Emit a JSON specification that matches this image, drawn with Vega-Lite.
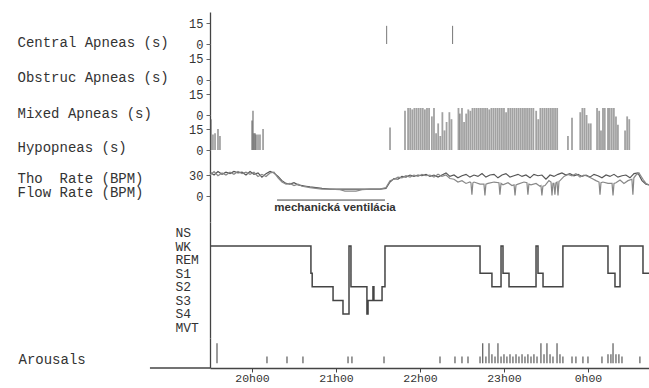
{
"$schema": "https://vega.github.io/schema/vega-lite/v6.json",
"background": "white",
"padding": {"left": 17, "top": 12, "right": 0, "bottom": 0},
"bounds": "flush",
"spacing": 0,
"config": {
 "view": {"stroke": null},
 "axis": {"grid": false, "labelFont": "Liberation Mono", "titleFont": "Liberation Mono", "labelColor": "#333", "titleColor": "#333", "domainColor": "#444", "domainWidth": 1.3, "tickColor": "#666", "labelFontSize": 12, "titleFontSize": 14, "titleFontWeight": "normal"}
},
"datasets": {
 "apnea": [
  {"type":"C","m":156.2,"s":13},{"type":"C","m":203.3,"s":13},
  {"type":"H","m":30.7,"s":22},{"type":"H","m":32.1,"s":11},{"type":"H","m":33.6,"s":12},{"type":"H","m":35.7,"s":15},{"type":"H","m":37.1,"s":10},
  {"type":"H","m":60,"s":21},{"type":"H","m":60.7,"s":28},{"type":"H","m":61.4,"s":12},{"type":"H","m":62.2,"s":12},{"type":"H","m":62.9,"s":11},{"type":"H","m":64.3,"s":11},{"type":"H","m":65.7,"s":11},{"type":"H","m":67.9,"s":15},
  {"type":"H","m":158.6,"s":16},
  {"type":"H","m":169.3,"s":28},{"type":"H","m":171.5,"s":30},{"type":"H","m":173,"s":30},{"type":"H","m":174.5,"s":29},{"type":"H","m":176,"s":30},{"type":"H","m":177.5,"s":30},{"type":"H","m":179,"s":30},{"type":"H","m":180.5,"s":30},{"type":"H","m":182,"s":30},{"type":"H","m":183.5,"s":29},{"type":"H","m":185,"s":30},{"type":"H","m":186.5,"s":30},
  {"type":"H","m":188.5,"s":24},{"type":"H","m":190,"s":30},{"type":"H","m":191.5,"s":12},{"type":"H","m":193,"s":19},{"type":"H","m":194.5,"s":10},{"type":"H","m":196,"s":27},{"type":"H","m":197.5,"s":14},{"type":"H","m":199,"s":20},{"type":"H","m":201,"s":27},{"type":"H","m":202.5,"s":22},
  {"type":"H","m":207.5,"s":30},{"type":"H","m":208.5,"s":26},{"type":"H","m":210,"s":30},{"type":"H","m":211.5,"s":20},{"type":"H","m":213,"s":26},{"type":"H","m":214.5,"s":29},{"type":"H","m":216,"s":28},{"type":"H","m":217.5,"s":30},{"type":"H","m":219,"s":30},{"type":"H","m":220.5,"s":30},{"type":"H","m":222,"s":30},{"type":"H","m":223.5,"s":30},{"type":"H","m":225,"s":30},{"type":"H","m":226.5,"s":30},{"type":"H","m":228,"s":30},{"type":"H","m":229.5,"s":29},{"type":"H","m":231,"s":30},{"type":"H","m":232.5,"s":30},{"type":"H","m":234,"s":30},{"type":"H","m":235.5,"s":30},{"type":"H","m":237,"s":30},{"type":"H","m":238.5,"s":30},{"type":"H","m":240,"s":30},{"type":"H","m":241.5,"s":27},{"type":"H","m":243,"s":30},{"type":"H","m":244.5,"s":30},{"type":"H","m":246,"s":30},{"type":"H","m":247.5,"s":30},{"type":"H","m":249,"s":30},{"type":"H","m":250.5,"s":30},
  {"type":"H","m":252,"s":30},{"type":"H","m":253.5,"s":30},{"type":"H","m":255,"s":30},{"type":"H","m":256.5,"s":30},{"type":"H","m":258,"s":30},{"type":"H","m":259.5,"s":30},{"type":"H","m":261,"s":30},{"type":"H","m":263,"s":28},{"type":"H","m":264.5,"s":22},{"type":"H","m":266,"s":30},{"type":"H","m":267.5,"s":30},{"type":"H","m":269,"s":30},{"type":"H","m":270.5,"s":30},{"type":"H","m":272,"s":30},{"type":"H","m":273.5,"s":30},{"type":"H","m":275,"s":30},{"type":"H","m":276.5,"s":30},{"type":"H","m":278,"s":30},
  {"type":"H","m":285.7,"s":10},{"type":"H","m":288.6,"s":23},
  {"type":"H","m":294.5,"s":27},{"type":"H","m":296,"s":30},{"type":"H","m":297.5,"s":30},{"type":"H","m":299,"s":25},{"type":"H","m":300.5,"s":19},{"type":"H","m":302,"s":19},
  {"type":"H","m":306.5,"s":30},{"type":"H","m":308,"s":28},{"type":"H","m":309.3,"s":14},{"type":"H","m":310.7,"s":30},{"type":"H","m":312,"s":30},{"type":"H","m":314.3,"s":30},{"type":"H","m":315.5,"s":30},{"type":"H","m":317,"s":30},{"type":"H","m":318.5,"s":30},{"type":"H","m":320,"s":24},{"type":"H","m":321.4,"s":18},
  {"type":"H","m":326.5,"s":14},{"type":"H","m":328,"s":24},{"type":"H","m":329.5,"s":22}
 ],
 "rate": [
  {"s":"Tho","m":30.0,"v":34},{"s":"Tho","m":32.9,"v":30},{"s":"Tho","m":35.7,"v":35},{"s":"Tho","m":38.6,"v":31},{"s":"Tho","m":41.4,"v":34},{"s":"Tho","m":44.3,"v":32},{"s":"Tho","m":47.1,"v":35},{"s":"Tho","m":50.0,"v":33},{"s":"Tho","m":52.9,"v":34},{"s":"Tho","m":55.7,"v":30},{"s":"Tho","m":58.6,"v":35},{"s":"Tho","m":61.4,"v":31},{"s":"Tho","m":64.3,"v":33},{"s":"Tho","m":67.1,"v":27},{"s":"Tho","m":70.0,"v":32},{"s":"Tho","m":72.9,"v":35},{"s":"Tho","m":75.7,"v":33},{"s":"Tho","m":78.6,"v":28},{"s":"Tho","m":81.4,"v":22},{"s":"Tho","m":84.3,"v":18},{"s":"Tho","m":87.1,"v":17},{"s":"Tho","m":90.0,"v":19},{"s":"Tho","m":92.9,"v":16},{"s":"Tho","m":95.7,"v":15},{"s":"Tho","m":98.6,"v":14},{"s":"Tho","m":101.4,"v":13},{"s":"Tho","m":105.7,"v":12},{"s":"Tho","m":110.0,"v":11},{"s":"Tho","m":115.7,"v":10},{"s":"Tho","m":122.9,"v":10},{"s":"Tho","m":130.0,"v":10},{"s":"Tho","m":137.1,"v":10},{"s":"Tho","m":144.3,"v":10},{"s":"Tho","m":151.4,"v":10},{"s":"Tho","m":155.7,"v":11},{"s":"Tho","m":158.6,"v":20},{"s":"Tho","m":161.4,"v":25},{"s":"Tho","m":164.3,"v":24},{"s":"Tho","m":167.1,"v":28},{"s":"Tho","m":170.0,"v":27},{"s":"Tho","m":172.9,"v":30},{"s":"Tho","m":175.7,"v":28},{"s":"Tho","m":178.6,"v":30},{"s":"Tho","m":181.4,"v":29},{"s":"Tho","m":184.3,"v":31},{"s":"Tho","m":187.1,"v":28},{"s":"Tho","m":190.0,"v":30},{"s":"Tho","m":192.9,"v":27},{"s":"Tho","m":195.7,"v":30},{"s":"Tho","m":198.6,"v":33},{"s":"Tho","m":201.4,"v":28},{"s":"Tho","m":204.3,"v":30},{"s":"Tho","m":207.1,"v":26},{"s":"Tho","m":210.0,"v":29},{"s":"Tho","m":212.9,"v":31},{"s":"Tho","m":215.7,"v":27},{"s":"Tho","m":218.6,"v":30},{"s":"Tho","m":221.4,"v":28},{"s":"Tho","m":224.3,"v":32},{"s":"Tho","m":227.1,"v":27},{"s":"Tho","m":230.0,"v":30},{"s":"Tho","m":232.9,"v":31},{"s":"Tho","m":235.7,"v":26},{"s":"Tho","m":238.6,"v":30},{"s":"Tho","m":241.4,"v":32},{"s":"Tho","m":244.3,"v":27},{"s":"Tho","m":247.1,"v":29},{"s":"Tho","m":250.0,"v":31},{"s":"Tho","m":252.9,"v":28},{"s":"Tho","m":255.7,"v":30},{"s":"Tho","m":258.6,"v":26},{"s":"Tho","m":261.4,"v":31},{"s":"Tho","m":264.3,"v":29},{"s":"Tho","m":267.1,"v":30},{"s":"Tho","m":270.0,"v":24},{"s":"Tho","m":272.9,"v":30},{"s":"Tho","m":275.7,"v":28},{"s":"Tho","m":278.6,"v":31},{"s":"Tho","m":281.4,"v":33},{"s":"Tho","m":284.3,"v":30},{"s":"Tho","m":287.1,"v":32},{"s":"Tho","m":290.0,"v":29},{"s":"Tho","m":292.9,"v":31},{"s":"Tho","m":295.7,"v":28},{"s":"Tho","m":298.6,"v":30},{"s":"Tho","m":301.4,"v":27},{"s":"Tho","m":304.3,"v":31},{"s":"Tho","m":307.1,"v":29},{"s":"Tho","m":310.0,"v":26},{"s":"Tho","m":312.9,"v":30},{"s":"Tho","m":315.7,"v":28},{"s":"Tho","m":318.6,"v":31},{"s":"Tho","m":321.4,"v":27},{"s":"Tho","m":324.3,"v":29},{"s":"Tho","m":327.1,"v":30},{"s":"Tho","m":330.0,"v":26},{"s":"Tho","m":332.9,"v":32},{"s":"Tho","m":335.7,"v":33},{"s":"Tho","m":338.6,"v":22},{"s":"Tho","m":341.4,"v":17},{"s":"Tho","m":343.6,"v":16},
  {"s":"Flow","m":30.0,"v":30},{"s":"Flow","m":32.9,"v":35},{"s":"Flow","m":35.7,"v":29},{"s":"Flow","m":38.6,"v":33},{"s":"Flow","m":41.4,"v":30},{"s":"Flow","m":44.3,"v":34},{"s":"Flow","m":47.1,"v":31},{"s":"Flow","m":50.0,"v":35},{"s":"Flow","m":52.9,"v":32},{"s":"Flow","m":55.7,"v":34},{"s":"Flow","m":58.6,"v":31},{"s":"Flow","m":61.4,"v":34},{"s":"Flow","m":64.3,"v":28},{"s":"Flow","m":67.1,"v":31},{"s":"Flow","m":70.0,"v":28},{"s":"Flow","m":72.9,"v":33},{"s":"Flow","m":75.7,"v":34},{"s":"Flow","m":78.6,"v":26},{"s":"Flow","m":81.4,"v":20},{"s":"Flow","m":84.3,"v":17},{"s":"Flow","m":87.1,"v":18},{"s":"Flow","m":90.0,"v":15},{"s":"Flow","m":92.9,"v":17},{"s":"Flow","m":95.7,"v":14},{"s":"Flow","m":98.6,"v":13},{"s":"Flow","m":101.4,"v":12},{"s":"Flow","m":105.7,"v":11},{"s":"Flow","m":110.0,"v":10},{"s":"Flow","m":115.7,"v":10},{"s":"Flow","m":122.9,"v":9},{"s":"Flow","m":126.4,"v":7},{"s":"Flow","m":130.0,"v":7},{"s":"Flow","m":134.3,"v":7},{"s":"Flow","m":138.6,"v":9},{"s":"Flow","m":144.3,"v":10},{"s":"Flow","m":151.4,"v":10},{"s":"Flow","m":155.7,"v":12},{"s":"Flow","m":158.6,"v":22},{"s":"Flow","m":161.4,"v":24},{"s":"Flow","m":164.3,"v":27},{"s":"Flow","m":167.1,"v":26},{"s":"Flow","m":170.0,"v":29},{"s":"Flow","m":172.9,"v":27},{"s":"Flow","m":175.7,"v":30},{"s":"Flow","m":178.6,"v":28},{"s":"Flow","m":181.4,"v":31},{"s":"Flow","m":184.3,"v":29},{"s":"Flow","m":187.1,"v":30},{"s":"Flow","m":190.0,"v":27},{"s":"Flow","m":192.9,"v":31},{"s":"Flow","m":195.7,"v":28},{"s":"Flow","m":198.6,"v":30},{"s":"Flow","m":201.4,"v":25},{"s":"Flow","m":204.3,"v":24},{"s":"Flow","m":207.1,"v":20},{"s":"Flow","m":210.0,"v":22},{"s":"Flow","m":212.9,"v":18},{"s":"Flow","m":215.7,"v":20},{"s":"Flow","m":216.4,"v":19},{"s":"Flow","m":217.1,"v":2},{"s":"Flow","m":217.8,"v":19},{"s":"Flow","m":218.6,"v":20},{"s":"Flow","m":222.9,"v":17},{"s":"Flow","m":225.7,"v":17},{"s":"Flow","m":226.4,"v":1},{"s":"Flow","m":227.1,"v":17},{"s":"Flow","m":228.6,"v":18},{"s":"Flow","m":232.9,"v":20},{"s":"Flow","m":236.4,"v":19},{"s":"Flow","m":237.1,"v":2},{"s":"Flow","m":237.9,"v":18},{"s":"Flow","m":239.3,"v":16},{"s":"Flow","m":242.9,"v":19},{"s":"Flow","m":245.7,"v":15},{"s":"Flow","m":247.2,"v":16},{"s":"Flow","m":247.9,"v":1},{"s":"Flow","m":248.6,"v":16},{"s":"Flow","m":250.0,"v":17},{"s":"Flow","m":254.3,"v":20},{"s":"Flow","m":256.4,"v":19},{"s":"Flow","m":257.1,"v":2},{"s":"Flow","m":257.8,"v":17},{"s":"Flow","m":259.3,"v":16},{"s":"Flow","m":262.9,"v":18},{"s":"Flow","m":265.7,"v":14},{"s":"Flow","m":266.4,"v":15},{"s":"Flow","m":267.1,"v":1},{"s":"Flow","m":267.8,"v":14},{"s":"Flow","m":269.3,"v":15},{"s":"Flow","m":272.1,"v":22},{"s":"Flow","m":273.6,"v":20},{"s":"Flow","m":274.3,"v":1},{"s":"Flow","m":275.0,"v":18},{"s":"Flow","m":275.7,"v":18},{"s":"Flow","m":276.4,"v":2},{"s":"Flow","m":277.1,"v":19},{"s":"Flow","m":277.9,"v":20},{"s":"Flow","m":278.6,"v":1},{"s":"Flow","m":279.3,"v":21},{"s":"Flow","m":280.0,"v":22},{"s":"Flow","m":282.9,"v":28},{"s":"Flow","m":285.7,"v":31},{"s":"Flow","m":288.6,"v":29},{"s":"Flow","m":291.4,"v":32},{"s":"Flow","m":294.3,"v":27},{"s":"Flow","m":297.1,"v":30},{"s":"Flow","m":300.0,"v":28},{"s":"Flow","m":302.9,"v":25},{"s":"Flow","m":305.7,"v":22},{"s":"Flow","m":307.9,"v":20},{"s":"Flow","m":308.6,"v":2},{"s":"Flow","m":309.3,"v":19},{"s":"Flow","m":310.7,"v":20},{"s":"Flow","m":314.3,"v":18},{"s":"Flow","m":317.2,"v":18},{"s":"Flow","m":317.9,"v":1},{"s":"Flow","m":318.6,"v":18},{"s":"Flow","m":320.0,"v":19},{"s":"Flow","m":322.9,"v":23},{"s":"Flow","m":325.7,"v":18},{"s":"Flow","m":328.6,"v":22},{"s":"Flow","m":331.4,"v":24},{"s":"Flow","m":332.1,"v":2},{"s":"Flow","m":332.8,"v":26},{"s":"Flow","m":334.3,"v":30},{"s":"Flow","m":336.4,"v":33},{"s":"Flow","m":339.3,"v":24},{"s":"Flow","m":341.4,"v":18},{"s":"Flow","m":343.6,"v":16}
 ],
 "stage": [
  {"m":30,"st":"WK","lvl":6},{"m":102.1,"st":"S1","lvl":4},{"m":103,"st":"S2","lvl":3},{"m":117.9,"st":"S3","lvl":2},{"m":125,"st":"S4","lvl":1},{"m":129.3,"st":"WK","lvl":6},{"m":130.7,"st":"S2","lvl":3},{"m":142.1,"st":"S4","lvl":1},{"m":142.9,"st":"S3","lvl":2},{"m":146.4,"st":"S2","lvl":3},{"m":147.1,"st":"S3","lvl":2},{"m":152.9,"st":"S2","lvl":3},{"m":155,"st":"WK","lvl":6},{"m":222.9,"st":"S1","lvl":4},{"m":231.4,"st":"S2","lvl":3},{"m":237.9,"st":"WK","lvl":6},{"m":239.3,"st":"S1","lvl":4},{"m":243.6,"st":"S2","lvl":3},{"m":262.9,"st":"WK","lvl":6},{"m":264.3,"st":"S1","lvl":4},{"m":267.9,"st":"S2","lvl":3},{"m":282.1,"st":"WK","lvl":6},{"m":314.3,"st":"S1","lvl":4},{"m":319.3,"st":"S2","lvl":3},{"m":322.9,"st":"WK","lvl":6},{"m":339.3,"st":"S1","lvl":4},{"m":343.6,"st":"S1","lvl":4}
 ],
 "arousal": [
  {"m":35,"h":9},{"m":70.7,"h":3},{"m":85,"h":3},{"m":96.4,"h":3},{"m":128.6,"h":3},{"m":131.4,"h":3},{"m":154.3,"h":3},{"m":194.3,"h":3},{"m":205,"h":3},{"m":210,"h":3},{"m":214.3,"h":3},
  {"m":222.9,"h":3},{"m":224.8,"h":9},{"m":227.1,"h":3},{"m":229.3,"h":9},{"m":231.4,"h":4},{"m":233.6,"h":3},{"m":235.7,"h":9},{"m":237.9,"h":3},{"m":240,"h":4},{"m":242.1,"h":3},{"m":244.3,"h":4},{"m":246.4,"h":3},{"m":248.6,"h":4},{"m":250.7,"h":3},{"m":252.9,"h":4},{"m":255,"h":3},{"m":257.1,"h":4},{"m":259.3,"h":3},{"m":261.4,"h":4},{"m":263.6,"h":3},{"m":266.4,"h":9},{"m":268.6,"h":4},{"m":270.7,"h":9},{"m":272.9,"h":4},{"m":275,"h":3},{"m":277.9,"h":9},{"m":280,"h":4},{"m":282.1,"h":3},
  {"m":288.6,"h":3},{"m":291.4,"h":3},{"m":296.4,"h":3},{"m":300,"h":3},{"m":310,"h":3},{"m":314.3,"h":4},{"m":316.4,"h":4},{"m":317.9,"h":9},{"m":320,"h":4},{"m":322.1,"h":4},{"m":324.3,"h":3},{"m":337.1,"h":3}
 ]
},
"vconcat": [
 {
  "width": 439, "height": 32,
  "data": {"name": "apnea"},
  "transform": [{"filter": "datum.type == 'C'"}],
  "mark": {"type": "rule", "color": "#777", "strokeWidth": 1},
  "encoding": {
   "x": {"field": "m", "type": "quantitative", "scale": {"domain": [30, 343.6], "nice": false, "zero": false}, "axis": null},
   "y": {"field": "s", "type": "quantitative", "scale": {"domain": [0, 22.9], "nice": false}, "axis": {"values": [0, 15], "title": "Central Apneas (s)", "titleAngle": 0, "titleAlign": "left", "titleX": -193, "titleY": 30, "titleBaseline": "middle", "tickSize": 4, "labelPadding": 3}},
   "y2": {"datum": 0}
  }
 },
 {
  "width": 439, "height": 36,
  "data": {"name": "apnea"},
  "transform": [{"filter": "datum.type == 'O'"}],
  "mark": {"type": "rule", "color": "#777", "strokeWidth": 1},
  "encoding": {
   "x": {"field": "m", "type": "quantitative", "scale": {"domain": [30, 343.6], "nice": false, "zero": false}, "axis": null},
   "y": {"field": "s", "type": "quantitative", "scale": {"domain": [0, 25.7], "nice": false}, "axis": {"values": [0, 15], "title": "Obstruc Apneas (s)", "titleAngle": 0, "titleAlign": "left", "titleX": -193, "titleY": 33, "titleBaseline": "middle", "tickSize": 4, "labelPadding": 3}},
   "y2": {"datum": 0}
  }
 },
 {
  "width": 439, "height": 35,
  "data": {"name": "apnea"},
  "transform": [{"filter": "datum.type == 'M'"}],
  "mark": {"type": "rule", "color": "#777", "strokeWidth": 1},
  "encoding": {
   "x": {"field": "m", "type": "quantitative", "scale": {"domain": [30, 343.6], "nice": false, "zero": false}, "axis": null},
   "y": {"field": "s", "type": "quantitative", "scale": {"domain": [0, 25], "nice": false}, "axis": {"values": [0, 15], "title": "Mixed Apneas (s)", "titleAngle": 0, "titleAlign": "left", "titleX": -193, "titleY": 33, "titleBaseline": "middle", "tickSize": 4, "labelPadding": 3}},
   "y2": {"datum": 0}
  }
 },
 {
  "width": 439, "height": 35,
  "data": {"name": "apnea"},
  "transform": [{"filter": "datum.type == 'H'"}],
  "mark": {"type": "rule", "color": "#555", "strokeWidth": 1.8, "opacity": 0.55},
  "encoding": {
   "x": {"field": "m", "type": "quantitative", "scale": {"domain": [30, 343.6], "nice": false, "zero": false}, "axis": null},
   "y": {"field": "s", "type": "quantitative", "scale": {"domain": [0, 25], "nice": false}, "axis": {"values": [0, 15], "title": "Hypopneas (s)", "titleAngle": 0, "titleAlign": "left", "titleX": -193, "titleY": 32, "titleBaseline": "middle", "tickSize": 4, "labelPadding": 3}},
   "y2": {"datum": 0}
  }
 },
 {
  "width": 439, "height": 72,
  "layer": [
   {
    "data": {"name": "rate"},
    "mark": {"type": "line", "strokeWidth": 1.2},
    "encoding": {
     "x": {"field": "m", "type": "quantitative", "scale": {"domain": [30, 343.6], "nice": false, "zero": false}, "axis": null},
     "y": {"field": "v", "type": "quantitative", "scale": {"domain": [-37, 65.7], "nice": false}, "axis": {"values": [0, 30], "title": ["Tho\u00a0\u00a0Rate (BPM)", "Flow Rate (BPM)"], "titleLineHeight": 14.5, "titleAngle": 0, "titleAlign": "left", "titleX": -193, "titleY": 28, "titleBaseline": "middle", "tickSize": 4, "labelPadding": 3}},
     "color": {"field": "s", "type": "nominal", "scale": {"domain": ["Tho", "Flow"], "range": ["#555", "#888"]}, "legend": null}
    }
   },
   {
    "data": {"values": [{"m": 77.9, "m2": 155, "v": -5.7}]},
    "mark": {"type": "rule", "color": "#444", "strokeWidth": 1},
    "encoding": {
     "x": {"field": "m", "type": "quantitative"},
     "x2": {"field": "m2"},
     "y": {"field": "v", "type": "quantitative"}
    }
   },
   {
    "data": {"values": [{"m": 119.3, "v": -17, "t": "mechanická ventilácia"}]},
    "mark": {"type": "text", "font": "Liberation Sans", "fontSize": 11.5, "fontWeight": "bold", "color": "#333"},
    "encoding": {
     "x": {"field": "m", "type": "quantitative"},
     "y": {"field": "v", "type": "quantitative"},
     "text": {"field": "t"}
    }
   }
  ]
 },
 {
  "width": 439, "height": 116,
  "data": {"name": "stage"},
  "mark": {"type": "line", "interpolate": "step-after", "color": "#444", "strokeWidth": 1.5},
  "encoding": {
   "x": {"field": "m", "type": "quantitative", "scale": {"domain": [30, 343.6], "nice": false, "zero": false}, "axis": null},
   "y": {"field": "lvl", "type": "quantitative", "scale": {"domain": [-0.765, 7.765], "nice": false, "zero": false}, "axis": {"title": null, "ticks": false, "values": [0, 1, 2, 3, 4, 5, 6, 7], "labelExpr": "['MVT','S4','S3','S2','S1','REM','WK','NS'][datum.value]", "labelAlign": "left", "labelPadding": 35, "labelFontSize": 13, "labelColor": "#333"}}
  }
 },
 {
  "width": 439, "height": 30,
  "layer": [
   {
    "data": {"name": "arousal"},
    "mark": {"type": "rule", "color": "#666", "strokeWidth": 1.3},
    "encoding": {
     "x": {"field": "m", "type": "quantitative", "scale": {"domain": [30, 343.6], "nice": false, "zero": false}, "axis": {"values": [60, 120, 180, 240, 300], "labelExpr": "(floor(datum.value / 60) + 19) % 24 + 'h00'", "title": null, "tickSize": 4, "labelPadding": 0, "labelFontSize": 11.5, "tickColor": "#444"}},
     "y": {"field": "h", "type": "quantitative", "scale": {"domain": [-2.2, 11.4], "nice": false}, "axis": {"title": "Arousals", "labels": false, "ticks": false, "titleAngle": 0, "titleAlign": "left", "titleX": -192, "titleY": 21, "titleBaseline": "middle"}},
     "y2": {"datum": 0}
    }
   },
   {
    "data": {"values": [{"m": -12.9, "m2": 30, "h": -2.2}]},
    "mark": {"type": "rule", "color": "#444", "strokeWidth": 1.3},
    "encoding": {
     "x": {"field": "m", "type": "quantitative"},
     "x2": {"field": "m2"},
     "y": {"field": "h", "type": "quantitative"}
    }
   }
  ]
 }
]
}
